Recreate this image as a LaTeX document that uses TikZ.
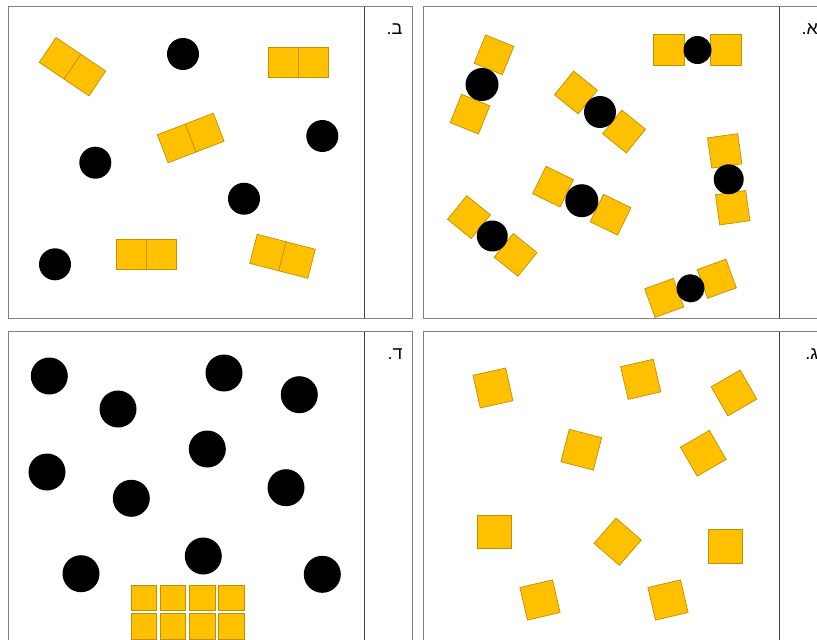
\documentclass[tikz,border=0pt]{standalone}
\usepackage{fontspec}
\newfontfamily\hebfont[Script=Hebrew]{Liberation Sans}
\TeXXeTstate=1
\definecolor{tileyellow}{HTML}{FFC000}
\definecolor{tileedge}{HTML}{BF9000}
\definecolor{framegray}{HTML}{808080}
\definecolor{splitgray}{HTML}{404040}

% two tiles side by side: x, y, angle
\newcommand{\domino}[3]{%
  \begin{scope}[shift={(#1,#2)}, rotate=#3, transform shape]
    \node[tile] at (-15,0) {};
    \node[tile] at (15,0) {};
  \end{scope}}
% tile - dot - tile: x, y, angle, half gap, dot size
\newcommand{\trio}[5]{%
  \begin{scope}[shift={(#1,#2)}, rotate=#3, transform shape]
    \node[tile, minimum size=30.5pt] at (-#4,0) {};
    \node[tile, minimum size=30.5pt] at (#4,0) {};
    \node[dot, minimum size=#5pt] at (0,0) {};
  \end{scope}}

\begin{document}
\begin{tikzpicture}[x=1pt, y=-1pt, line width=1pt,
  tile/.style={draw=tileedge, fill=tileyellow, line width=0.7pt, inner sep=0pt, minimum size=30pt},
  bigtile/.style={tile, minimum size=33.5pt},
  smalltile/.style={tile, minimum size=25.5pt},
  dot/.style={circle, fill=black, inner sep=0pt, minimum size=32pt},
  bigdot/.style={dot, minimum size=37pt},
  letter/.style={anchor=east, inner sep=0pt, font=\hebfont\fontsize{18}{20}\selectfont}]
  \useasboundingbox (0,0) rectangle (817,640);

  % frames
  \draw[framegray] (8.3,6.7) rectangle (412,318);
  \draw[splitgray] (364,6.7) -- (364,318);
  \draw[framegray] (423.3,6.7) rectangle (827,318);
  \draw[splitgray] (779,6.7) -- (779,318);
  \draw[framegray] (8.3,331.7) rectangle (412,650);
  \draw[splitgray] (364,331.7) -- (364,650);
  \draw[framegray] (423.3,331.7) rectangle (827,650);
  \draw[splitgray] (779,331.7) -- (779,650);

  \node[letter] (labB) at (403,28.7) {\beginR ב.\endR};
  \node[letter] (labA) at (818.5,28.7) {\beginR א.\endR};
  \node[letter] (labD) at (403,353.7) {\beginR ד.\endR};
  \node[letter] (labG) at (818.5,353.7) {\beginR ג.\endR};

  % panel b
  \domino{72.5}{66.7}{-34}
  \domino{298.5}{62.7}{0}
  \domino{190.7}{138}{21}
  \domino{146.5}{254.7}{0}
  \domino{282.5}{256.3}{-14.5}
  \node[dot] (b1) at (183,54) {};
  \node[dot] (b2) at (322.3,136) {};
  \node[dot] (b3) at (95.3,162.7) {};
  \node[dot] (b4) at (244,198.7) {};
  \node[dot] (b5) at (55,264.3) {};

  % panel a
  \trio{697.5}{50}{0}{28.5}{28}
  \trio{482}{84.5}{68}{32}{33}
  \trio{600}{112}{-39}{31}{32}
  \trio{581.8}{200.7}{-26}{32}{33}
  \trio{728.7}{179.3}{-82}{28.7}{30}
  \trio{492.3}{236}{-39}{30}{31}
  \trio{690.5}{288.3}{20}{28}{28}

  % panel d
  \node[bigdot] (d1) at (49.3,376) {};
  \node[bigdot] (d2) at (118,409) {};
  \node[bigdot] (d3) at (224,373) {};
  \node[bigdot] (d4) at (299.3,394.7) {};
  \node[bigdot] (d5) at (207.3,449) {};
  \node[bigdot] (d6) at (47,472) {};
  \node[bigdot] (d7) at (131.3,498.3) {};
  \node[bigdot] (d8) at (286,487.7) {};
  \node[bigdot] (d9) at (203.3,556) {};
  \node[bigdot] (d10) at (81,573.7) {};
  \node[bigdot] (d11) at (322.3,574.3) {};
  \foreach \c/\x in {1/143.8, 2/173, 3/202.3, 4/231.5}
    \foreach \r/\y in {1/597.7, 2/626.5}
      \node[smalltile] (t\r\c) at (\x,\y) {};

  % panel g
  \node[bigtile, rotate=12.5] (g1) at (493,388) {};
  \node[bigtile, rotate=13] (g2) at (640.7,379.3) {};
  \node[bigtile, rotate=30] (g3) at (734,393) {};
  \node[bigtile, rotate=-14.5] (g4) at (581.3,449.7) {};
  \node[bigtile, rotate=30] (g5) at (703.3,453.3) {};
  \node[bigtile] (g6) at (494.2,531.8) {};
  \node[bigtile, rotate=-41] (g7) at (617.7,541.7) {};
  \node[bigtile] (g8) at (725.3,546.5) {};
  \node[bigtile, rotate=13] (g9) at (540,600) {};
  \node[bigtile, rotate=13] (g10) at (668,600) {};
\end{tikzpicture}
\end{document}
